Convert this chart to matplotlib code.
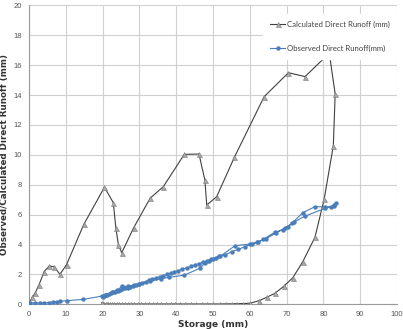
import matplotlib
matplotlib.use("Agg")
import matplotlib.pyplot as plt

# Calculated Direct Runoff (mm)
calc_x = [0, 0.1, 0.9, 1.6, 2.7, 4.1, 5.5, 6.9, 8.4, 10.2, 14.9, 20.5, 22.9, 23.6, 24.3, 25.2,
          28.4, 32.9, 36.5, 42.2, 46.2, 47.8, 48.3, 51.0, 55.8, 63.9, 70.5, 75.0, 81.6, 83.2,
          82.7, 80.2, 77.7, 74.4, 71.7, 69.3, 66.8, 64.6, 62.5, 60.0,
          58.2, 56.6, 55.1, 53.6, 51.9, 50.1, 48.5, 46.9, 45.4, 43.9, 42.5, 41.1, 39.8, 38.5,
          37.2, 36.0, 34.8, 33.7, 32.6, 31.5, 30.5, 29.5, 28.6, 27.7, 26.8, 26.0, 25.2, 24.5,
          23.8, 23.2, 22.6, 22.1, 21.6, 21.2, 20.8, 20.5, 20.2, 20.0, 19.8]
calc_y = [0, 0.1, 0.47, 0.73, 1.29, 2.18, 2.56, 2.51, 2.0, 2.65, 5.35, 7.83, 6.8, 5.12, 3.97, 3.45,
          5.1, 7.09, 7.87, 10.03, 10.05, 8.3, 6.64, 7.2, 9.83, 13.89, 15.49, 15.23, 16.79, 14.07,
          10.61, 7.02, 4.48, 2.85, 1.78, 1.22, 0.73, 0.47, 0.24, 0.07,
          0.05, 0.04, 0.03, 0.03, 0.02, 0.02, 0.02, 0.02, 0.02, 0.02, 0.02, 0.02, 0.02, 0.02,
          0.02, 0.02, 0.02, 0.02, 0.02, 0.02, 0.02, 0.02, 0.02, 0.02, 0.02, 0.02, 0.02, 0.02,
          0.02, 0.02, 0.02, 0.02, 0.02, 0.02, 0.02, 0.02, 0.02, 0.02, 0.12]

# Observed Direct Runoff (mm)
obs_x = [0, 0.3, 1.6, 3.0, 4.1, 5.3, 6.6, 7.5, 8.4, 10.2, 14.8, 19.8,
         20.3, 20.7, 21.2, 21.7, 22.3, 22.9, 23.5, 24.1, 24.8, 25.4, 26.1, 26.8, 27.5, 28.3,
         29.1, 29.9, 30.8, 31.7, 32.6, 33.5, 34.5, 35.5, 36.5, 37.5, 38.5, 39.5, 40.6, 41.7,
         42.8, 43.9, 45.0, 46.1, 47.2, 48.3, 49.5, 50.7, 52.0, 56.0, 60.0, 62.3, 63.7, 66.8,
         69.1, 70.5, 71.6, 74.4, 77.7, 80.3, 82.0, 83.0, 83.5,
         82.8, 80.5, 75.0, 72.0, 69.5, 67.0, 64.5, 62.0, 60.5, 58.7, 56.9, 55.1, 53.3, 51.5,
         50.0, 48.8, 47.8, 46.5, 42.2, 38.0, 36.0, 33.0, 30.0, 28.5, 27.0, 25.2, 24.0, 22.5,
         21.0, 20.2]
obs_y = [0, 0.1, 0.09, 0.09, 0.1, 0.12, 0.15, 0.17, 0.2, 0.24, 0.33, 0.55,
         0.57, 0.61, 0.65, 0.69, 0.74, 0.79, 0.84, 0.89, 0.95, 1.0, 1.06, 1.11, 1.17, 1.24,
         1.31, 1.37, 1.45, 1.52, 1.6, 1.67, 1.75, 1.84, 1.92, 2.0, 2.09, 2.17, 2.26, 2.35,
         2.44, 2.53, 2.63, 2.72, 2.81, 2.9, 3.0, 3.1, 3.22, 3.92, 4.03, 4.17, 4.35, 4.82,
         5.0, 5.2, 5.46, 6.13, 6.53, 6.52, 6.5, 6.65, 6.78,
         6.6, 6.42, 5.9, 5.5, 5.1, 4.75, 4.4, 4.15, 4.03, 3.85, 3.68, 3.52, 3.3, 3.2,
         3.05, 2.9, 2.75, 2.42, 1.95, 1.8, 1.72, 1.55, 1.35, 1.3, 1.2, 1.2, 0.95, 0.8,
         0.62, 0.5]

x_ticks = [0, 10, 20, 30, 40, 50, 60, 70, 80, 90, 100]
y_ticks = [0, 2, 4, 6, 8, 10, 12, 14, 16, 18, 20]

fig = plt.figure(figsize=(4.03, 3.29), dpi=100)
ax = fig.add_axes([29 / 403, 1 - 304.3 / 329, 368 / 403, 299 / 329])

ax.plot(calc_x, calc_y, color="#404040", lw=0.8, marker="^", ms=3.6,
        mfc="#a8a8a8", mec="#7a7a7a", mew=0.4, label="Calculated Direct Runoff (mm)", zorder=3)
ax.plot(obs_x, obs_y, color="#4a7ebb", lw=0.8, marker="o", ms=2.8,
        mfc="#4a7ebb", mec="#4a7ebb", mew=0.3, label="Observed Direct Runoff(mm)", zorder=4)

ax.set_xlim(0, 100)
ax.set_ylim(0, 20)
ax.set_xticks(x_ticks)
ax.set_yticks(y_ticks)
ax.grid(True, color="#d0d0d0", lw=0.8)
ax.set_axisbelow(True)
for s in ["top", "right"]:
    ax.spines[s].set_visible(False)
for s in ["left", "bottom"]:
    ax.spines[s].set_color("#9a9a9a")
    ax.spines[s].set_linewidth(0.8)
ax.tick_params(length=0, pad=5, labelsize=5.5, labelcolor="#555555")
for lbl in ax.get_xticklabels() + ax.get_yticklabels():
    lbl.set_fontfamily("Liberation Sans")

ax.set_xlabel("Storage (mm)", fontsize=6.5, fontweight="bold", color="#333333", labelpad=1)
ax.set_ylabel("Observed/Calculated Direct Runoff (mm)", fontsize=6.3, fontweight="bold",
              color="#333333", labelpad=3)

leg = ax.legend(loc="upper right", bbox_to_anchor=(1.01, 0.985), frameon=True, fancybox=False,
                edgecolor="white", facecolor="white", framealpha=1,
                labelspacing=2.2, handlelength=2.0, handletextpad=0.2, borderpad=0.9,
                prop={"family": "Lato", "size": 5.6})
for t in leg.get_texts():
    t.set_color("#404040")

fig.savefig("out.png", dpi=100)
